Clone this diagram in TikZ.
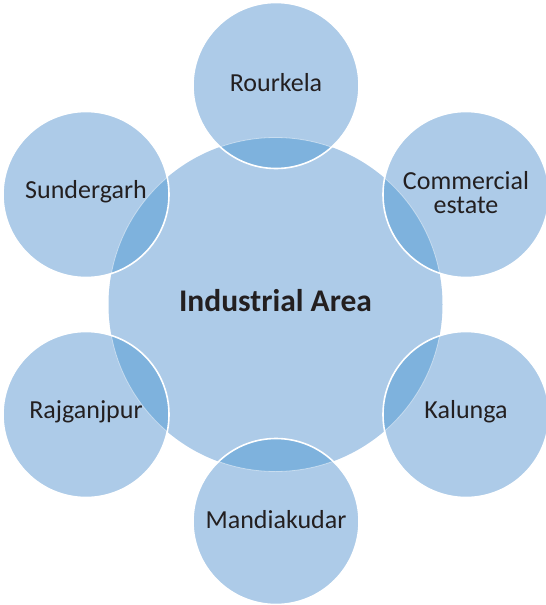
\documentclass[tikz,border=0pt]{standalone}
\usepackage{fontspec}
\setmainfont{Carlito}
\definecolor{lightfill}{HTML}{ADCBE8}
\definecolor{darkfill}{HTML}{7EB2DD}
\definecolor{txt}{HTML}{231F20}
\tikzset{
  outer/.style={circle, minimum size=166pt, inner sep=0pt, fill=lightfill},
  lbl/.style={text=txt, font=\fontsize{26}{30}\selectfont, align=center},
}
\begin{document}
\begin{tikzpicture}[x=1pt,y=-1pt]
\useasboundingbox (0,0) rectangle (546,605);
% centres
\coordinate (c0) at (275.5,304.5);
\def\R{83}
\def\RC{167}
% central circle
\fill[lightfill] (c0) circle (\RC);
% outer circles
\foreach \n/\x/\y in {r/276/85.5, ce/466/194.5, k/466/414.5, m/276/521.5, rj/86/414.5, s/86/194.5}{
  \fill[lightfill] (\x,\y) circle (\R);
  \begin{scope}
    \clip (c0) circle (\RC);
    \fill[darkfill] (\x,\y) circle (\R);
  \end{scope}
  \begin{scope}
    \clip (\x,\y) circle (\R);
    \draw[white, opacity=0.45, line width=0.8pt] (c0) circle (\RC);
  \end{scope}
  \draw[white, line width=1.6pt] (\x,\y) circle (\R);
}
% labels
\node[lbl] (center) at (275.5,301) {\fontsize{31.5}{36}\selectfont\bfseries Industrial Area};
\node[lbl] (rourkela) at (276,83) {Rourkela};
\node[lbl] (commercial) at (466,193) {Commercial\\[-6pt]estate};
\node[lbl] (kalunga) at (466,412) {Kalunga};
\node[lbl] (mandiakudar) at (276,520) {Mandiakudar};
\node[lbl] (rajganjpur) at (86,412) {Rajganjpur};
\node[lbl] (sundergarh) at (86,192) {Sundergarh};
\end{tikzpicture}
\end{document}
